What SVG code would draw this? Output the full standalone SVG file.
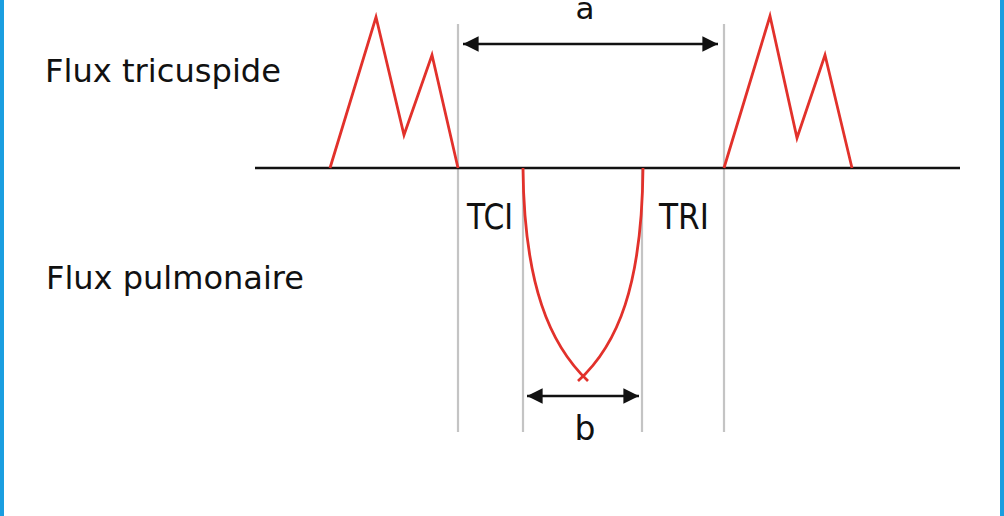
<svg xmlns="http://www.w3.org/2000/svg" width="1004" height="516" viewBox="0 0 1004 516">
<style>
.lbl{font-family:"DejaVu Sans","Liberation Sans",sans-serif;fill:#111;}
.guide{stroke:#c4c4c4;stroke-width:2.2;fill:none;}
.flow{stroke:#e2312b;stroke-width:2.8;fill:none;stroke-linejoin:miter;}
.axis{stroke:#111;stroke-width:2.6;}
.dim{stroke:#111;stroke-width:2.6;marker-start:url(#ah);marker-end:url(#ah);}
</style>
<defs>
<marker id="ah" viewBox="0 0 10 10" refX="10" refY="5" markerWidth="6" markerHeight="6" orient="auto-start-reverse" markerUnits="strokeWidth">
<path d="M0,0 L10,5 L0,10 Z" fill="#111"/>
</marker>
</defs>
<rect x="0" y="0" width="1004" height="516" fill="#fff"/>
<rect x="0" y="0" width="4" height="516" fill="#1a9ee0"/>
<rect x="1000" y="0" width="4" height="516" fill="#1a9ee0"/>
<g id="guides">
<line class="guide" x1="458" y1="24" x2="458" y2="432"/>
<line class="guide" x1="523" y1="168" x2="523" y2="432"/>
<line class="guide" x1="642" y1="168" x2="642" y2="432"/>
<line class="guide" x1="724" y1="24" x2="724" y2="432"/>
</g>
<g id="axis">
<line class="axis" x1="255" y1="168" x2="960" y2="168"/>
</g>
<g id="tricuspid-left">
<polyline class="flow" points="330,168 376,17 404,135 432,55 458,168"/>
</g>
<g id="tricuspid-right">
<polyline class="flow" points="724,168 770,16 797,138 825,55 852,168"/>
</g>
<g id="pulmonary">
<path class="flow" d="M523,168 C524,285 550,345 588,381"/>
<path class="flow" d="M643,168 C642,285 618,345 578,381"/>
</g>
<g id="connectors">
<line class="dim" x1="463" y1="44" x2="718" y2="44"/>
<line class="dim" x1="527" y1="396" x2="639" y2="396"/>
</g>
<g id="labels">
<text class="lbl" x="45" y="82" font-size="32" textLength="236" lengthAdjust="spacingAndGlyphs">Flux tricuspide</text>
<text class="lbl" x="46" y="289" font-size="32" textLength="258" lengthAdjust="spacingAndGlyphs">Flux pulmonaire</text>
<text class="lbl" x="467" y="229" font-size="35" textLength="46" lengthAdjust="spacingAndGlyphs">TCI</text>
<text class="lbl" x="659" y="229" font-size="35" textLength="50" lengthAdjust="spacingAndGlyphs">TRI</text>
<text class="lbl" x="585" y="19" font-size="31" text-anchor="middle">a</text>
<text class="lbl" x="585" y="440" font-size="33" text-anchor="middle">b</text>
</g>
</svg>
